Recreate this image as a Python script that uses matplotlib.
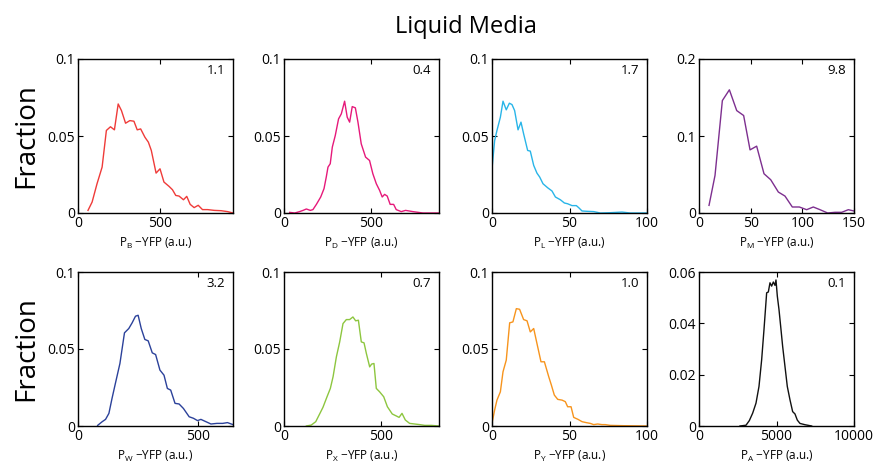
import numpy as np
import matplotlib
matplotlib.use('Agg')
import matplotlib.pyplot as plt

plt.rcParams['font.family'] = ['Open Sans', 'DejaVu Sans']
plt.rcParams['mathtext.fontset'] = 'custom'
plt.rcParams['mathtext.rm'] = 'Open Sans'

# --- data (x in a.u., y = fraction) ---
pb_x = [61, 86, 116, 147, 173, 198, 222, 245, 265, 290, 316, 341, 361, 382, 408, 429, 447,
        476, 500, 524, 555, 576, 596, 616, 643, 663, 684, 708, 733, 759, 790, 831, 872, 912, 945]
pb_y = [0.0017, 0.0071, 0.019, 0.0298, 0.0536, 0.056, 0.054, 0.0708, 0.0665, 0.0583, 0.060,
        0.0596, 0.054, 0.0546, 0.0492, 0.046, 0.0406, 0.0259, 0.0287, 0.0201, 0.0173, 0.0151,
        0.0114, 0.011, 0.0086, 0.0108, 0.0056, 0.0035, 0.005, 0.0022, 0.0022, 0.0017, 0.0015,
        0.0009, 0.0]

pd_x = [33, 62, 90, 110, 129, 152, 167, 187, 212, 231, 244, 254, 267, 279, 296, 315, 331, 350,
        365, 379, 394, 412, 427, 446, 471, 494, 513, 533, 552, 567, 581, 596, 613, 633, 648,
        677, 702, 744, 802, 894]
pd_y = [0.0004, 0.0, 0.0009, 0.0017, 0.0026, 0.0017, 0.0022, 0.0056, 0.0104, 0.0158, 0.0233,
        0.0298, 0.032, 0.0428, 0.0503, 0.0611, 0.0644, 0.0726, 0.0622, 0.059, 0.0691, 0.0683,
        0.059, 0.0449, 0.0363, 0.0341, 0.0255, 0.019, 0.0147, 0.0104, 0.0121, 0.011, 0.0056,
        0.0056, 0.0022, 0.0009, 0.0017, 0.0009, 0.0, 0.0]

pl_x = [0, 1.7, 3.2, 5.4, 7.1, 9.2, 11.2, 12.9, 14.6, 16.8, 18.7, 20.4, 23.0, 24.7, 26.9, 29.0,
        30.8, 32.9, 35.9, 38.7, 40.9, 44.1, 46.7, 48.8, 51.6, 54.4, 55.9, 58.1, 61.3, 65.6,
        69.9, 76.3, 83.9, 89.2, 100]
pl_y = [0.0287, 0.047, 0.0536, 0.0622, 0.0726, 0.067, 0.0713, 0.0704, 0.0665, 0.054, 0.059,
        0.0514, 0.0406, 0.0402, 0.0309, 0.0259, 0.0233, 0.019, 0.0164, 0.0143, 0.0104, 0.0086,
        0.0065, 0.006, 0.0048, 0.0048, 0.0035, 0.0013, 0.0011, 0.0009, 0.0, 0.0002, 0.0006,
        0.0, 0.0]

pm_x = [9.7, 15.5, 22.6, 29.4, 36.5, 43.2, 49.4, 55.8, 62.9, 69.4, 76.8, 83.2, 90.3, 97.1,
        104.2, 110.6, 117.1, 124.5, 131.6, 138.1, 144.5, 150]
pm_y = [0.0099, 0.0488, 0.146, 0.160, 0.133, 0.1266, 0.082, 0.0868, 0.051, 0.0432, 0.0272,
        0.022, 0.0078, 0.0078, 0.0043, 0.0078, 0.0043, 0.0, 0.0009, 0.0009, 0.0043, 0.0026]

pw_x = [82, 101, 115, 129, 142, 156, 175, 194, 212, 226, 240, 251, 264, 279, 293, 310, 324,
        342, 359, 373, 387, 405, 422, 440, 464, 482, 499, 513, 534, 555, 580, 604, 624, 647]
pw_y = [0.0004, 0.0028, 0.0043, 0.0082, 0.0179, 0.0276, 0.0406, 0.0605, 0.0633, 0.067,
        0.0713, 0.0719, 0.0633, 0.0562, 0.0553, 0.0475, 0.0464, 0.0363, 0.033, 0.0244, 0.0233,
        0.0147, 0.0143, 0.0114, 0.006, 0.005, 0.0035, 0.0043, 0.0028, 0.0013, 0.0017, 0.0017,
        0.0022, 0.0009]

px_x = [115, 140, 163, 183, 200, 221, 238, 252, 269, 286, 303, 320, 337, 354, 368, 382, 397,
        411, 423, 440, 450, 462, 474, 491, 512, 531, 556, 577, 591, 606, 623, 645, 671, 697,
        723, 757, 796]
px_y = [0.0, 0.0006, 0.0028, 0.0078, 0.0121, 0.019, 0.0244, 0.032, 0.0449, 0.0546, 0.0665,
        0.0691, 0.0691, 0.0708, 0.0683, 0.0687, 0.0546, 0.054, 0.0471, 0.0384, 0.0402, 0.0406,
        0.0244, 0.0222, 0.019, 0.0125, 0.0078, 0.0065, 0.0056, 0.0082, 0.0039, 0.0017, 0.0013,
        0.0009, 0.0004, 0.0004, 0.0]

py_x = [0, 1.7, 3.2, 5.4, 7.1, 9.2, 11.4, 13.5, 15.7, 17.8, 20.4, 22.6, 24.7, 26.9, 29.0, 31.6,
        33.8, 36.6, 38.3, 40.2, 42.4, 45.2, 47.3, 48.8, 51.0, 52.7, 55.5, 58.1, 60.8, 63.4,
        65.6, 68.2, 70.9, 73.1, 76.3, 84.9, 100]
py_y = [0.0017, 0.0104, 0.0168, 0.0222, 0.0352, 0.0428, 0.067, 0.0676, 0.0762, 0.0758, 0.0691,
        0.0683, 0.0611, 0.0633, 0.0536, 0.0417, 0.0417, 0.032, 0.0266, 0.0201, 0.0173, 0.0168,
        0.0158, 0.0125, 0.0125, 0.0056, 0.0043, 0.0028, 0.0022, 0.0017, 0.0009, 0.0013, 0.0009,
        0.0009, 0.0004, 0.0002, 0.0]

pa_x = [2645, 3032, 3247, 3462, 3677, 3870, 4042, 4193, 4365, 4472, 4580, 4687, 4795, 4902,
        4967, 5053, 5160, 5268, 5397, 5547, 5697, 5870, 6042, 6192, 6342, 6515, 6837, 7267]
pa_y = [0.0, 0.0003, 0.0021, 0.005, 0.0089, 0.0154, 0.0258, 0.0376, 0.0519, 0.0522, 0.0558,
        0.0545, 0.0561, 0.0548, 0.0569, 0.0506, 0.0454, 0.0389, 0.031, 0.0232, 0.0154, 0.0102,
        0.0056, 0.0047, 0.0023, 0.001, 0.0005, 0.0]

subscripts = ['B', 'D', 'L', 'M', 'W', 'X', 'Y', 'A']
cv_labels = ['1.1', '0.4', '1.7', '9.8', '3.2', '0.7', '1.0', '0.1']
xmax = [945, 895, 100, 150, 647, 796, 100, 10000]
xticks = [[0, 500], [0, 500], [0, 50, 100], [0, 50, 100, 150],
          [0, 500], [0, 500], [0, 50, 100], [0, 5000, 10000]]
yticks = [[0, 0.05, 0.1]] * 3 + [[0, 0.1, 0.2]] + [[0, 0.05, 0.1]] * 3 + [[0, 0.02, 0.04, 0.06]]
ytick_labels = [['0', '0.05', '0.1']] * 3 + [['0', '0.1', '0.2']] + [['0', '0.05', '0.1']] * 3 \
    + [['0', '0.02', '0.04', '0.06']]
colors = ['#ef3b39', '#e6197a', '#29b5e8', '#7d2f8f', '#2b419a', '#8dc63f', '#f7941d', '#111111']
series = [(pb_x, pb_y), (pd_x, pd_y), (pl_x, pl_y), (pm_x, pm_y),
          (pw_x, pw_y), (px_x, px_y), (py_x, py_y), (pa_x, pa_y)]

W, H = 882, 474
fig = plt.figure(figsize=(W / 100, H / 100), dpi=100)

lefts = [78, 284, 492, 699]
tops = [59, 272]
aw, ah = 155, 154

for i, (xs, ys) in enumerate(series):
    r, c = divmod(i, 4)
    ax = fig.add_axes([lefts[c] / W, 1 - (tops[r] + ah) / H, aw / W, ah / H])
    ax.plot(xs, ys, color=colors[i], linewidth=1.0)
    ax.set_xlim(0, xmax[i])
    ax.set_ylim(0, yticks[i][-1])
    ax.set_xticks(xticks[i])
    ax.set_xticklabels([str(t) for t in xticks[i]])
    ax.set_yticks(yticks[i])
    ax.set_yticklabels(ytick_labels[i])
    ax.tick_params(direction='in', top=True, right=True, length=3.5, width=0.8,
                   labelsize=10, pad=2)
    for s in ax.spines.values():
        s.set_linewidth(1.0)
    ax.set_xlabel(r'P$_{\mathregular{%s}}$ −YFP (a.u.)' % subscripts[i], fontsize=8.5, labelpad=4)
    ax.text(0.95, 0.97, cv_labels[i], transform=ax.transAxes, ha='right', va='top', fontsize=9.5)
    if c == 0:
        ax.set_ylabel('Fraction', fontsize=20, labelpad=5)

fig.text(466 / W, 1 - 27 / H, 'Liquid Media', ha='center', va='center', fontsize=17)

fig.savefig('out.png', dpi=100)
